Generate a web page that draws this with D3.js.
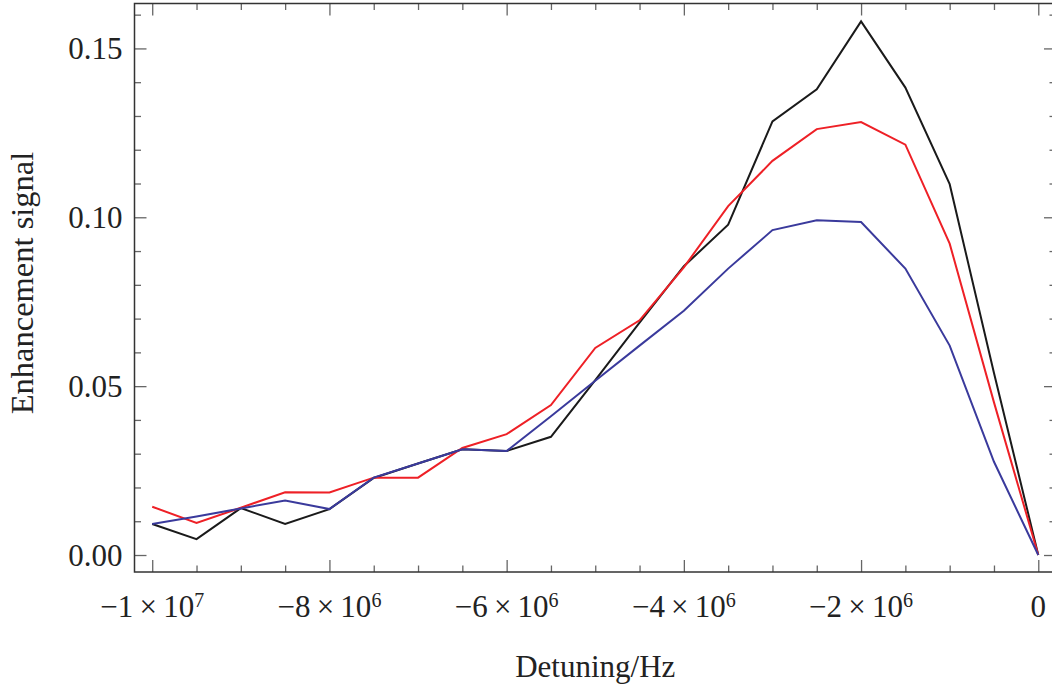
<!DOCTYPE html>
<html>
<head>
<meta charset="utf-8">
<script src="https://cdn.jsdelivr.net/npm/d3@7"></script>
<style>
  html, body { margin: 0; padding: 0; background: #fff; }
  svg { display: block; }
  text { font-family: "Liberation Serif", "Times New Roman", serif; fill: #222; }
</style>
</head>
<body>
<svg id="chart" width="1052" height="688"></svg>
<script>
// Detuning (Hz) sample points
const detuning = [-10000000, -9500000, -9000000, -8500000, -8000000, -7500000, -7000000,
  -6500000, -6000000, -5500000, -5000000, -4500000, -4000000, -3500000,
  -3000000, -2500000, -2000000, -1500000, -1000000, -500000, 0];

// Enhancement signal for the three curves
const seriesBlack = [0.0092, 0.0047, 0.0139, 0.0092, 0.0136, 0.0228, 0.0271, 0.0313, 0.0308, 0.0350,
  0.0518, 0.0688, 0.0855, 0.0978, 0.1284, 0.1379, 0.1580, 0.1384, 0.1098, 0.0539, 0.0000];
const seriesRed = [0.0143, 0.0095, 0.0140, 0.0186, 0.0185, 0.0229, 0.0229, 0.0317, 0.0358, 0.0444,
  0.0613, 0.0695, 0.0852, 0.1033, 0.1167, 0.1261, 0.1282, 0.1215, 0.0922, 0.0452, 0.0000];
const seriesBlue = [0.0092, 0.0114, 0.0138, 0.0161, 0.0136, 0.0229, 0.0271, 0.0313, 0.0308, 0.0411,
  0.0516, 0.0620, 0.0723, 0.0848, 0.0962, 0.0991, 0.0986, 0.0848, 0.0620, 0.0276, 0.0000];

// Tick values and labels
const xMajorTicks = [-10000000, -8000000, -6000000, -4000000, -2000000, 0];
const xTickMantissas = ["\u22121\u2009\u00d7\u200910", "\u22128\u2009\u00d7\u200910", "\u22126\u2009\u00d7\u200910",
  "\u22124\u2009\u00d7\u200910", "\u22122\u2009\u00d7\u200910", "0"];
const xTickExponents = ["7", "6", "6", "6", "6", ""];
const xMinorTicks = [-9500000, -9000000, -8500000, -7500000, -7000000, -6500000, -5500000, -5000000,
  -4500000, -3500000, -3000000, -2500000, -1500000, -1000000, -500000];
const yMajorTicks = [0, 0.05, 0.10, 0.15];
const yTickLabels = ["0.00", "0.05", "0.10", "0.15"];
const yMinorTicks = [0.01, 0.02, 0.03, 0.04, 0.06, 0.07, 0.08, 0.09, 0.11, 0.12, 0.13, 0.14, 0.16];

const xLabel = "Detuning/Hz";
const yLabel = "Enhancement signal";

const frame = { left: 134.5, right: 1056, top: 3.5, bottom: 572 };

const svg = d3.select("#chart");

const x = d3.scaleLinear().domain([-10200000, 200000]).range([frame.left, frame.right]);
const y = d3.scaleLinear().domain([-0.00503, 0.1633]).range([frame.bottom, frame.top]);

const tickColor = "#666";
const majorLen = 12, minorLen = 6.5;

function styleAxis(g) {
  g.select(".domain").remove();
  g.selectAll(".tick line").attr("stroke", tickColor).attr("stroke-width", 1.3);
}

// Bottom and top ticks (pointing into the plot)
svg.append("g").attr("transform", `translate(0,${frame.bottom})`)
  .call(d3.axisBottom(x).tickValues(xMajorTicks).tickSize(-majorLen).tickFormat(""))
  .call(styleAxis);
svg.append("g").attr("transform", `translate(0,${frame.bottom})`)
  .call(d3.axisBottom(x).tickValues(xMinorTicks).tickSize(-minorLen).tickFormat(""))
  .call(styleAxis);
svg.append("g").attr("transform", `translate(0,${frame.top})`)
  .call(d3.axisTop(x).tickValues(xMajorTicks).tickSize(-majorLen).tickFormat(""))
  .call(styleAxis);
svg.append("g").attr("transform", `translate(0,${frame.top})`)
  .call(d3.axisTop(x).tickValues(xMinorTicks).tickSize(-minorLen).tickFormat(""))
  .call(styleAxis);

// Left and right ticks
svg.append("g").attr("transform", `translate(${frame.left},0)`)
  .call(d3.axisLeft(y).tickValues(yMajorTicks).tickSize(-majorLen).tickFormat(""))
  .call(styleAxis);
svg.append("g").attr("transform", `translate(${frame.left},0)`)
  .call(d3.axisLeft(y).tickValues(yMinorTicks).tickSize(-minorLen).tickFormat(""))
  .call(styleAxis);
svg.append("g").attr("transform", `translate(${frame.right},0)`)
  .call(d3.axisRight(y).tickValues(yMajorTicks).tickSize(-majorLen).tickFormat(""))
  .call(styleAxis);
svg.append("g").attr("transform", `translate(${frame.right},0)`)
  .call(d3.axisRight(y).tickValues(yMinorTicks).tickSize(-minorLen).tickFormat(""))
  .call(styleAxis);

// Frame
svg.append("rect")
  .attr("x", frame.left).attr("y", frame.top)
  .attr("width", frame.right - frame.left).attr("height", frame.bottom - frame.top)
  .attr("fill", "none").attr("stroke", "#333").attr("stroke-width", 1.5);

// X tick labels with superscript exponents
const xLabels = svg.append("g").selectAll("text")
  .data(xMajorTicks)
  .join("text")
  .attr("x", d => x(d))
  .attr("y", frame.bottom + 45)
  .attr("text-anchor", "middle")
  .attr("font-size", 31);
xLabels.append("tspan").text((d, i) => xTickMantissas[i]);
xLabels.filter((d, i) => xTickExponents[i] !== "")
  .append("tspan")
  .attr("font-size", 20)
  .attr("dy", -10)
  .text(d => xTickExponents[xMajorTicks.indexOf(d)]);

// Y tick labels
svg.append("g").selectAll("text")
  .data(yMajorTicks)
  .join("text")
  .attr("x", frame.left - 12)
  .attr("y", d => y(d) + 11)
  .attr("text-anchor", "end")
  .attr("font-size", 31)
  .text((d, i) => yTickLabels[i]);

// Axis titles
svg.append("text")
  .attr("x", (frame.left + frame.right) / 2)
  .attr("y", 677)
  .attr("text-anchor", "middle")
  .attr("font-size", 31)
  .text(xLabel);
svg.append("text")
  .attr("transform", "translate(33,283) rotate(-90)")
  .attr("text-anchor", "middle")
  .attr("font-size", 32.5)
  .text(yLabel);

// Curves
const line = d3.line().x((d, i) => x(detuning[i])).y(d => y(d));
const curves = [
  { values: seriesBlack, color: "#1a1a1a" },
  { values: seriesRed, color: "#ee2026" },
  { values: seriesBlue, color: "#3a3a9c" }
];
svg.append("g").selectAll("path")
  .data(curves)
  .join("path")
  .attr("d", d => line(d.values))
  .attr("fill", "none")
  .attr("stroke", d => d.color)
  .attr("stroke-width", 2)
  .attr("stroke-linejoin", "miter");
</script>
</body>
</html>
